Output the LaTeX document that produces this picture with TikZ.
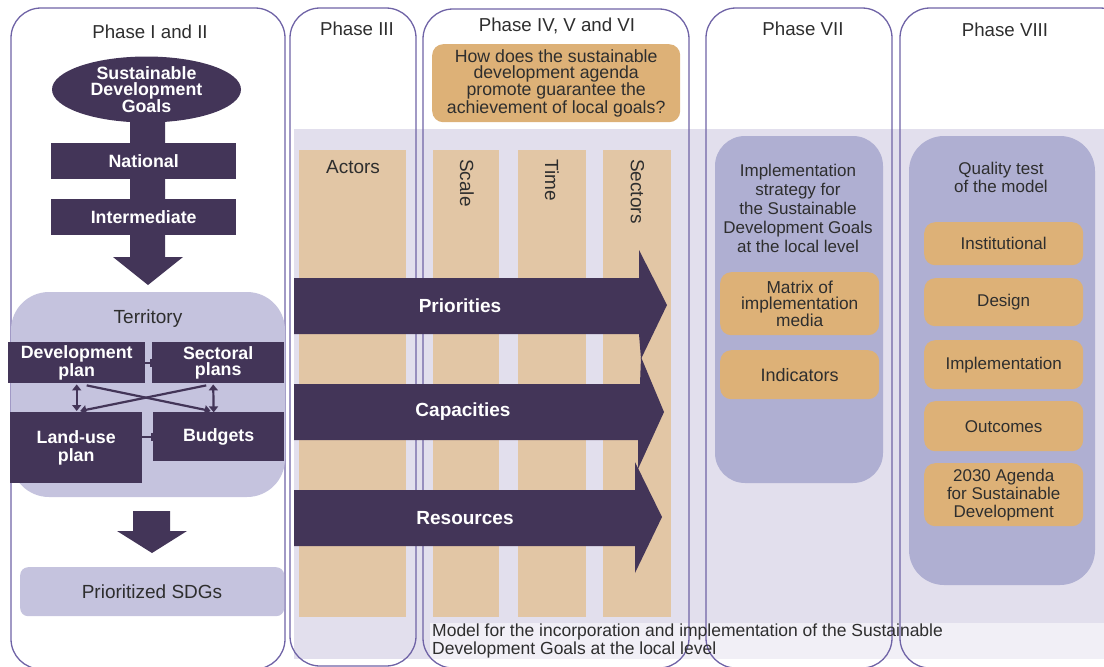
\documentclass[tikz,border=0pt]{standalone}
\usepackage{fontspec}
\setmainfont{Liberation Sans}
\usetikzlibrary{shapes.geometric,arrows.meta,calc}
\definecolor{dk}{HTML}{433558}
\definecolor{colline}{HTML}{6F63A6}
\definecolor{terr}{HTML}{C5C3DE}
\definecolor{band}{HTML}{E2DFED}
\definecolor{ltbox}{HTML}{F1EFF6}
\definecolor{beige}{HTML}{E2C6A5}
\definecolor{orng}{HTML}{DDB177}
\definecolor{inner}{HTML}{AFAFD2}
\definecolor{txt}{HTML}{2E2E2E}
\begin{document}
\begin{tikzpicture}[x=1pt,y=-1pt,
  hdr/.style={font=\fontsize{18.7}{19}\selectfont, text=txt, inner sep=0pt},
  lbl/.style={font=\fontsize{17}{17}\selectfont, text=txt, align=center, inner sep=0pt},
  big/.style={font=\fontsize{19}{19}\selectfont},
  wb/.style={font=\fontsize{17.8}{16}\selectfont\bfseries, text=white, align=center, inner sep=0pt},
  dkbox/.style={fill=dk, wb, anchor=north west, inner sep=0pt},
  obox/.style={fill=orng, rounded corners=11pt, lbl, anchor=north west},
  beigecol/.style={fill=beige},
  phasebox/.style={draw=colline, line width=1.3pt, rounded corners=30pt},
  tip/.style={Triangle[length=6pt,width=9pt]},
  conn/.style={draw=dk, line width=2.2pt, {Triangle[length=6pt,width=9pt]}-{Triangle[length=6pt,width=9pt]}},
  oneway/.style={draw=dk, line width=2.2pt, -{Triangle[length=6pt,width=9pt]}},
  tick/.style={draw=dk, line width=2pt, -{Bar[width=8pt]}}
]
\useasboundingbox (0,0) rectangle (1104,667);
\clip (0,0) rectangle (1104,667);

% backgrounds
\fill[band] (294,129) rectangle (1104,659);
\fill[ltbox] (430,623) rectangle (1104,659);

% phase outlines
\draw[phasebox] (11,8) rectangle (285,669);
\draw[phasebox] (290,8) rectangle (416,666);
\draw[phasebox] (423,9) rectangle (689,668);
\draw[phasebox] (706,8) rectangle (892,668);
\draw[phasebox] (900,8) rectangle (1130,668);

% headers
\node[hdr] (h1) at (150,32) {Phase I and II};
\node[hdr] (h3) at (357,29) {Phase III};
\node[hdr] (h4) at (557,26) {Phase IV, V and VI};
\node[hdr] (h7) at (803,29) {Phase VII};
\node[hdr] (h8) at (1005,30) {Phase VIII};

% ---------------- Phase I and II
\fill[terr, rounded corners=38pt] (11,292) rectangle (285,497);
\node[lbl, big] (terrlbl) at (148,319) {Territory};
\fill[dk] (130,110) -- (130,257) -- (113,257) -- (148,285) -- (183,257) -- (165,257) -- (165,110) -- cycle;
\node[ellipse, fill=dk, minimum width=189, minimum height=59, inner sep=0pt, wb] (sdg) at (146.5,89.5)
  {Sustainable\\Development\\Goals};
\node[dkbox, minimum width=185, minimum height=36] (nat) at (51,143) {National};
\node[dkbox, minimum width=185, minimum height=36] (inter) at (51,199) {Intermediate};

\node[dkbox, minimum width=137, minimum height=41] (dev) at (8,342) {Development\\plan};
\node[dkbox, minimum width=132, minimum height=41] (sec) at (152,342) {Sectoral\\plans};
\node[dkbox, minimum width=132, minimum height=71, font=\fontsize{17.8}{18}\selectfont\bfseries] (land) at (10,412) {Land-use\\plan};
\node[dkbox, minimum width=131, minimum height=49] (bud) at (153,412) {Budgets};

\draw[tick] (dev.east) -- (sec.west);
\draw[tick] (land.east |- bud.west) -- (bud.west);
\draw[conn] ($(dev.south)+(0,1)$) -- ($(dev.south |- land.north)+(0,-1)$);
\draw[conn] ($(sec.south)+(-5,1)$) -- ($(sec.south -| bud.north)+(-5,29)$);
\draw[oneway] ($(dev.south)+(10,2)$) -- ($(bud.north)+(-8,-1)$);
\draw[oneway] ($(sec.south)+(-12,2)$) -- ($(land.north)+(4,-1)$);

\fill[dk] (133,511) -- (133,531) -- (117,531) -- (152,553) -- (187,531) -- (170,531) -- (170,511) -- cycle;
\node[fill=terr, rounded corners=8pt, minimum width=264, minimum height=49, anchor=north west, inner sep=0pt] (psdg) at (20,567) {};
\node[lbl, big] (psdgt) at (152,592) {Prioritized SDGs};

% ---------------- Phase III - VI
\fill[beigecol] (299,150) rectangle (406,617);
\fill[beigecol] (433,150) rectangle (499,617);
\fill[beigecol] (518,150) rectangle (586,617);
\fill[beigecol] (603,150) rectangle (671,617);
\node[lbl, big] (actors) at (353,167) {Actors};
\node[lbl, big, rotate=-90, anchor=west] (scale) at (467,159) {Scale};
\node[lbl, big, rotate=-90, anchor=west] (time) at (552,159) {Time};
\node[lbl, big, rotate=-90, anchor=west] (sectors) at (637.5,159) {Sectors};

\node[obox, minimum width=248, minimum height=78, font=\fontsize{17.7}{16}\selectfont] (q) at (432,44)
  {How does the sustainable\\development agenda\\promote guarantee the\\achievement of local goals?};

% big arrows
\fill[dk] (294,278) -- (639,278) -- (639,250) -- (667,305) -- (641,359) -- (639,334) -- (294,334) -- cycle;
\fill[dk] (294,384) -- (640,384) -- (641,357) -- (664,412) -- (638,469) -- (638,440) -- (294,440) -- cycle;
\fill[dk] (294,490) -- (635,490) -- (635,462) -- (662,517) -- (635,573) -- (635,546) -- (294,546) -- cycle;
\node[wb, font=\fontsize{19}{19}\selectfont\bfseries] (prio) at (460,306) {Priorities};
\node[wb, font=\fontsize{19}{19}\selectfont\bfseries] (capa) at (463,412) {Capacities};
\node[wb, font=\fontsize{19}{19}\selectfont\bfseries] (reso) at (465,518) {Resources};

\node[lbl, align=left, anchor=west, font=\fontsize{17.5}{18}\selectfont] (model) at (432,641)
  {Model for the incorporation and implementation of the Sustainable\\Development Goals at the local level};

% ---------------- Phase VII
\fill[inner, rounded corners=30pt] (715,136) rectangle (883,483);
\node[lbl, font=\fontsize{17}{19}\selectfont] (strat) at (798,208)
  {Implementation\\strategy for\\the Sustainable\\Development Goals\\at the local level};
\node[obox, minimum width=159, minimum height=63, font=\fontsize{17.3}{16}\selectfont] (matrix) at (720,272)
  {Matrix of\\implementation\\media};
\node[obox, minimum width=159, minimum height=49, font=\fontsize{18}{18}\selectfont] (ind) at (720,350) {Indicators};

% ---------------- Phase VIII
\fill[inner, rounded corners=35pt] (909,136) rectangle (1095,585);
\node[lbl, font=\fontsize{17}{18}\selectfont] (qual) at (1001,177) {Quality test\\of the model};
\node[obox, minimum width=159, minimum height=43] (inst) at (924,222) {Institutional};
\node[obox, minimum width=159, minimum height=48] (des) at (924,278) {Design};
\node[obox, minimum width=159, minimum height=49] (impl) at (924,340) {Implementation};
\node[obox, minimum width=159, minimum height=50] (outc) at (924,401) {Outcomes};
\node[obox, minimum width=159, minimum height=63, font=\fontsize{17}{18}\selectfont] (agenda) at (924,463)
  {2030 Agenda\\for Sustainable\\Development};
\end{tikzpicture}
\end{document}
